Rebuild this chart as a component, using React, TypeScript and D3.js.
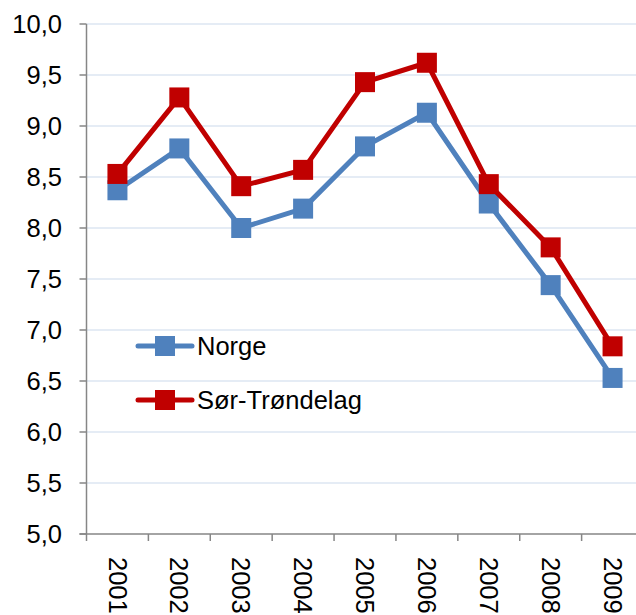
import React from "react";
import * as d3 from "d3";

const years = ["2001", "2002", "2003", "2004", "2005", "2006", "2007", "2008", "2009"];
const norge = [8.37, 8.78, 8.0, 8.19, 8.8, 9.13, 8.24, 7.44, 6.53];
const sorTrondelag = [8.53, 9.28, 8.41, 8.57, 9.43, 9.62, 8.43, 7.81, 6.84];
const yTicks = [5.0, 5.5, 6.0, 6.5, 7.0, 7.5, 8.0, 8.5, 9.0, 9.5, 10.0];
const seriesNames = ["Norge", "Sør-Trøndelag"];

const W = 636;
const H = 615;
const left = 86.5;
const right = 643.5;
const top = 24;
const bottom = 534;

export default function App() {
  const x = d3.scaleBand<string>().domain(years).range([left, right]);
  const y = d3.scaleLinear().domain([5, 10]).range([bottom, top]);
  const line = d3
    .line<number>()
    .x((_, i) => (x(years[i]) as number) + x.bandwidth() / 2)
    .y((d) => y(d));
  const fmt = (v: number) => v.toFixed(1).replace(".", ",");
  const series = [
    { name: seriesNames[0], data: norge, color: "#4f81bd" },
    { name: seriesNames[1], data: sorTrondelag, color: "#c00000" },
  ];
  const ms = 20;
  const fs = 25.5;
  const font = "'Liberation Sans', Arial, sans-serif";
  return (
    <svg
      width={W}
      height={H}
      style={{ position: "absolute", left: 0, top: 0, background: "#fff" }}
      fontFamily={font}
    >
      {yTicks.slice(1).map((t) => (
        <line key={"g" + t} x1={left} x2={W} y1={y(t)} y2={y(t)} stroke="#dce6f2" strokeWidth={1.5} />
      ))}
      {yTicks.map((t) => (
        <g key={"t" + t}>
          <line x1={left - 7} x2={left} y1={y(t)} y2={y(t)} stroke="#868686" strokeWidth={1.5} />
          <text x={62} y={y(t)} dy="0.35em" textAnchor="end" fontSize={fs} fill="#000">
            {fmt(t)}
          </text>
        </g>
      ))}
      <line x1={left} x2={left} y1={top} y2={bottom} stroke="#868686" strokeWidth={1.5} />
      <line x1={left - 7} x2={W} y1={bottom} y2={bottom} stroke="#868686" strokeWidth={1.5} />
      {years.map((yr) => (
        <g key={yr}>
          <line
            x1={x(yr) as number}
            x2={x(yr) as number}
            y1={bottom}
            y2={bottom + 7}
            stroke="#868686"
            strokeWidth={1.5}
          />
          <text
            transform={`translate(${(x(yr) as number) + x.bandwidth() / 2},557) rotate(90)`}
            dy="0.35em"
            textAnchor="start"
            fontSize={fs}
            fill="#000"
          >
            {yr}
          </text>
        </g>
      ))}
      <line x1={right} x2={right} y1={bottom} y2={bottom + 7} stroke="#868686" strokeWidth={1.5} />
      {series.map((s) => (
        <g key={s.name}>
          <path d={line(s.data) as string} fill="none" stroke={s.color} strokeWidth={5} strokeLinejoin="round" />
          {s.data.map((v, i) => (
            <rect
              key={i}
              x={(x(years[i]) as number) + x.bandwidth() / 2 - ms / 2}
              y={y(v) - ms / 2}
              width={ms}
              height={ms}
              fill={s.color}
            />
          ))}
        </g>
      ))}
      {series.map((s, i) => {
        const ly = 346 + i * 54;
        return (
          <g key={"l" + s.name}>
            <line x1={138} x2={192} y1={ly} y2={ly} stroke={s.color} strokeWidth={5} strokeLinecap="round" />
            <rect x={155} y={ly - 10} width={20} height={20} fill={s.color} />
            <text x={197} y={ly} dy="0.35em" fontSize={fs} fill="#000">
              {s.name}
            </text>
          </g>
        );
      })}
    </svg>
  );
}
